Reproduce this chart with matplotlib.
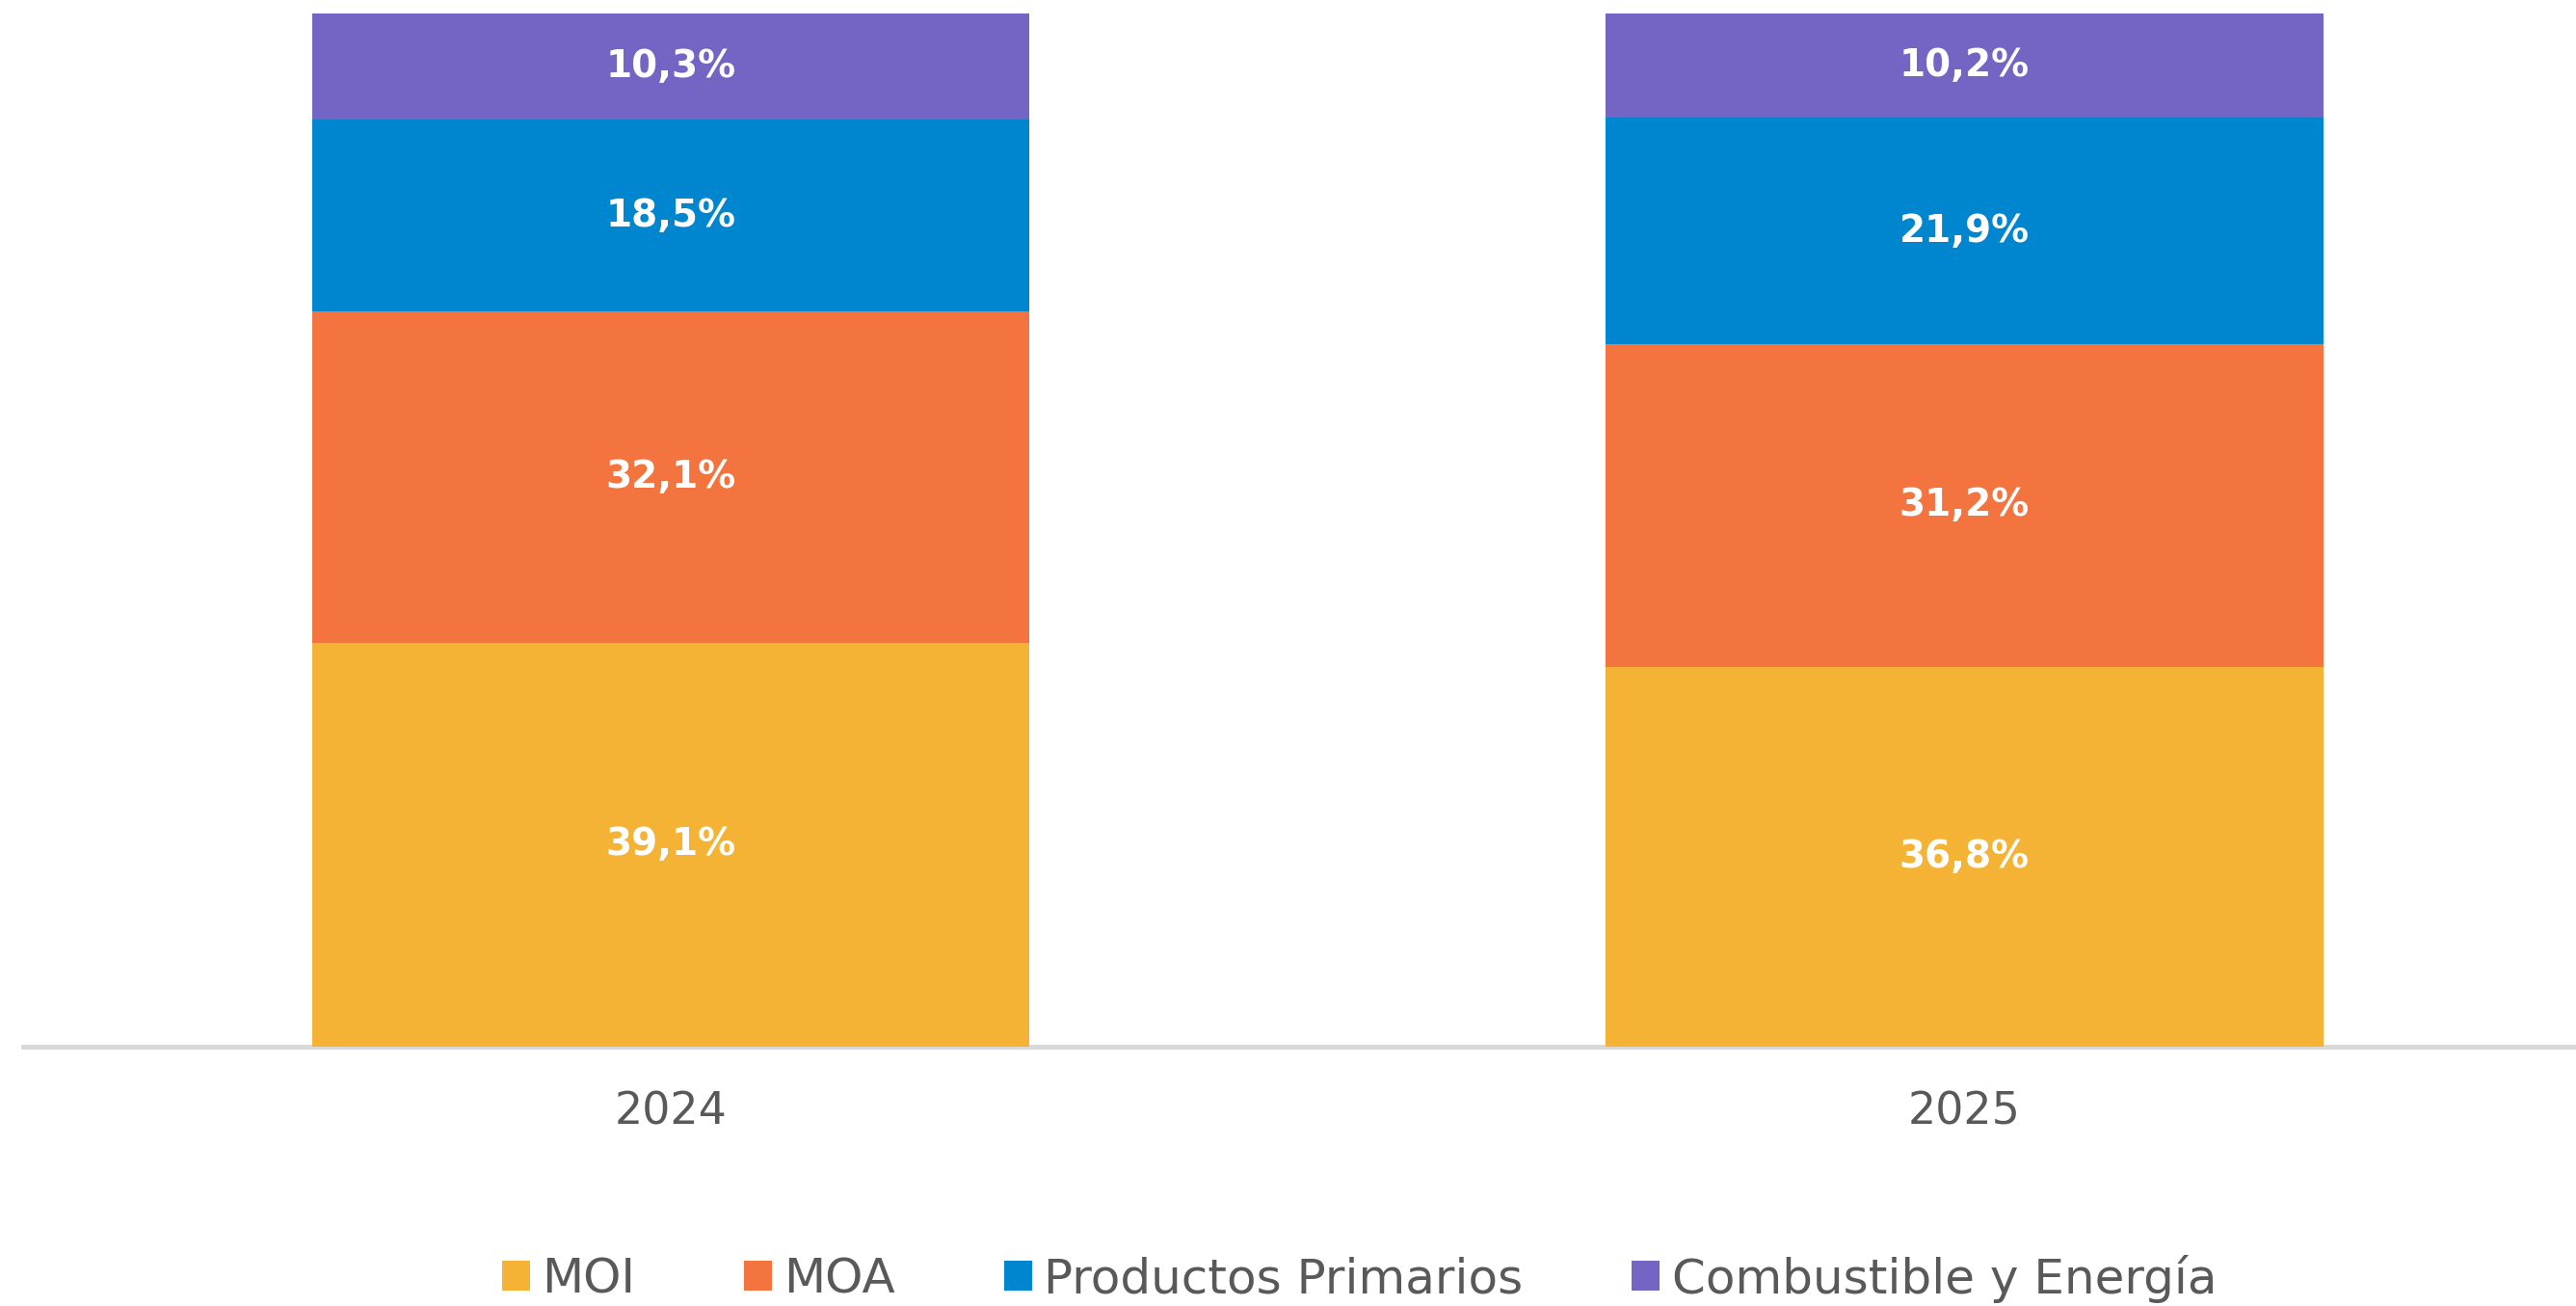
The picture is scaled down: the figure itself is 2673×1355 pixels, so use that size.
import matplotlib
matplotlib.use("Agg")
import matplotlib.pyplot as plt
import numpy as np

years = ["2024", "2025"]
series_names = ["MOI", "MOA", "Productos Primarios", "Combustible y Energía"]
moi = [39.1, 36.8]
moa = [32.1, 31.2]
primarios = [18.5, 21.9]
combustible = [10.3, 10.2]
colors = ["#F5B335", "#F4743F", "#0086CF", "#7465C4"]

values = [moi, moa, primarios, combustible]

plt.rcParams['font.family'] = ['DejaVu Sans']

fig = plt.figure(figsize=(26.73, 13.55), dpi=100)
ax = fig.add_axes([24/2673, (1355-1086)/1355, 1 - 24/2673, (1086-14)/1355])

x = np.arange(len(years))
bottom = np.zeros(len(years))
handles = []
for name, vals, col in zip(series_names, values, colors):
    vals = np.array(vals)
    b = ax.bar(x, vals, width=0.555, bottom=bottom, color=col, label=name, zorder=2)
    handles.append(b)
    for xi, v, bt in zip(x, vals, bottom):
        ax.text(xi, bt + v/2, f"{v:.1f}%".replace(".", ","), ha="center", va="center",
                color="white", fontsize=28, fontweight="bold", zorder=3)
    bottom += vals

ax.set_xlim(-0.5007, 1.473)
ax.set_ylim(0, 100)
for s in ["top", "right", "left"]:
    ax.spines[s].set_visible(False)
ax.spines["bottom"].set_color("#D9D9D9")
ax.spines["bottom"].set_linewidth(3.6)
ax.spines["bottom"].set_zorder(1)
ax.set_yticks([])
ax.set_xticks(x)
ax.set_xticklabels(years, fontsize=33, color="#595959")
ax.tick_params(axis="x", length=0, pad=33)

fig.legend(handles=handles, labels=series_names, loc="center", bbox_to_anchor=(0.5277, 0.021),
           ncol=4, frameon=False, fontsize=36, handlelength=0.58, handleheight=0.58,
           handletextpad=0.25, columnspacing=2.25, labelcolor="#595959")

fig.savefig("out.png", dpi=100)
